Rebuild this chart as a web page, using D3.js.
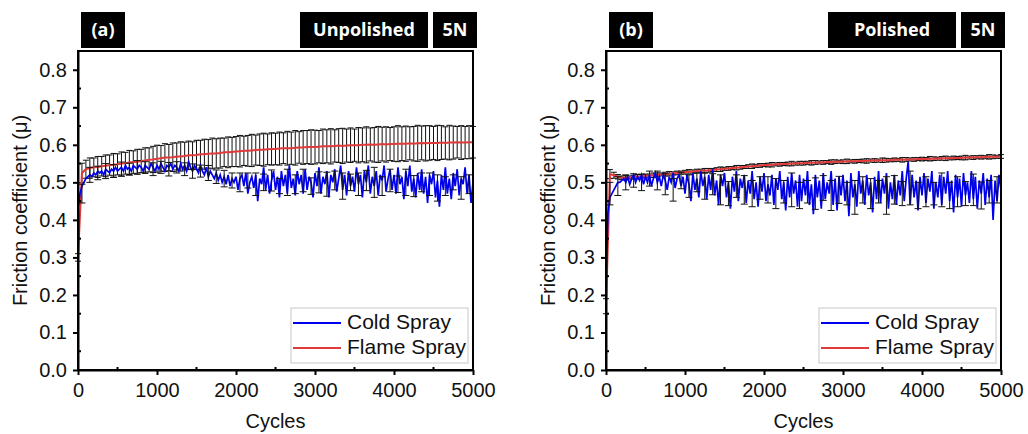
<!DOCTYPE html>
<html>
<head>
<meta charset="utf-8">
<script src="https://cdn.jsdelivr.net/npm/d3@7"></script>
<style>
body { margin: 0; background: #fff; }
svg text { font-family: "Liberation Sans", Arial, sans-serif; fill: #111; }
.tagText { font-family: "Open Sans", sans-serif !important; font-weight: 700; fill: #fff !important; }
</style>
</head>
<body>
<svg id="visframe" width="1028" height="434"></svg>
<script>
// sample grids (cycles)
var coldCycles = d3.range(0, 5001, 25);
var flameCycles = d3.range(0, 5001, 50);
var coldErrCycles = d3.range(50, 5000, 100);

var yTicks = [0, 0.1, 0.2, 0.3, 0.4, 0.5, 0.6, 0.7, 0.8];
var yMinor = [0.05, 0.15, 0.25, 0.35, 0.45, 0.55, 0.65, 0.75];
var xTicks = [0, 1000, 2000, 3000, 4000, 5000];
var xMinor = [500, 1500, 2500, 3500, 4500];

// ---- panel (a) unpolished ----
var coldA = [
  0.43, 0.47, 0.49, 0.50, 0.51, 0.515, 0.52, 0.515, 0.525, 0.52,
  0.53, 0.525, 0.53, 0.52, 0.535, 0.53, 0.525, 0.535, 0.53, 0.54,
  0.53, 0.535, 0.54, 0.53, 0.545, 0.535, 0.54, 0.53, 0.545, 0.54,
  0.535, 0.545, 0.54, 0.53, 0.545, 0.54, 0.535, 0.55, 0.54, 0.53,
  0.545, 0.535, 0.55, 0.54, 0.53, 0.545, 0.54, 0.55, 0.535, 0.545,
  0.54, 0.53, 0.55, 0.535, 0.545, 0.53, 0.555, 0.54, 0.53, 0.545,
  0.535, 0.525, 0.545, 0.53, 0.52, 0.54, 0.515, 0.53, 0.52, 0.51,
  0.525, 0.505, 0.52, 0.50, 0.515, 0.495, 0.52, 0.49, 0.51, 0.50,
  0.515, 0.48, 0.51, 0.52, 0.49, 0.525, 0.47, 0.50, 0.515, 0.485,
  0.52, 0.45, 0.51, 0.495, 0.54, 0.48, 0.52, 0.47, 0.505, 0.53,
  0.48, 0.515, 0.46, 0.53, 0.49, 0.52, 0.47, 0.545, 0.485, 0.51,
  0.465, 0.53, 0.495, 0.52, 0.47, 0.535, 0.48, 0.515, 0.50, 0.46,
  0.525, 0.49, 0.54, 0.47, 0.515, 0.495, 0.53, 0.46, 0.52, 0.50,
  0.535, 0.475, 0.51, 0.545, 0.48, 0.52, 0.465, 0.53, 0.49, 0.515,
  0.475, 0.54, 0.495, 0.52, 0.46, 0.53, 0.50, 0.545, 0.47, 0.515,
  0.49, 0.53, 0.465, 0.52, 0.505, 0.545, 0.475, 0.51, 0.535, 0.48,
  0.52, 0.47, 0.54, 0.495, 0.515, 0.455, 0.53, 0.49, 0.545, 0.475,
  0.51, 0.46, 0.525, 0.48, 0.535, 0.47, 0.515, 0.445, 0.52, 0.495,
  0.53, 0.46, 0.505, 0.435, 0.52, 0.48, 0.54, 0.47, 0.51, 0.455,
  0.525, 0.49, 0.535, 0.465, 0.51, 0.495, 0.54, 0.47, 0.52, 0.445,
  0.50
];
var flameMeanA = [
  0.30,
  0.525, 0.535, 0.538, 0.540, 0.541, 0.543, 0.544, 0.546, 0.547,
  0.548, 0.550, 0.551, 0.553, 0.554, 0.555, 0.557, 0.558, 0.560, 0.561,
  0.563, 0.564, 0.566, 0.566, 0.567, 0.569, 0.569, 0.570, 0.572, 0.572,
  0.573, 0.575, 0.575, 0.576, 0.577, 0.577, 0.578, 0.580, 0.580, 0.581,
  0.582, 0.583, 0.584, 0.584, 0.585, 0.586, 0.587, 0.587, 0.588, 0.589,
  0.589, 0.590, 0.591, 0.591, 0.591, 0.592, 0.593, 0.593, 0.594, 0.594,
  0.594, 0.595, 0.596, 0.596, 0.596, 0.597, 0.598, 0.597, 0.598, 0.599,
  0.599, 0.599, 0.600, 0.600, 0.601, 0.600, 0.601, 0.602, 0.601, 0.602,
  0.602, 0.603, 0.603, 0.603, 0.604, 0.603, 0.604, 0.605, 0.604, 0.605,
  0.605, 0.605, 0.606, 0.605, 0.606, 0.606, 0.607, 0.606, 0.606, 0.607,
  0.607
];
var flameSdA = [
  0.010,
  0.026, 0.024, 0.027, 0.025, 0.028, 0.026, 0.029, 0.027, 0.030,
  0.028, 0.031, 0.029, 0.032, 0.030, 0.033, 0.031, 0.034, 0.032, 0.035,
  0.036, 0.034, 0.037, 0.035, 0.038, 0.036, 0.039, 0.037, 0.038, 0.036,
  0.039, 0.037, 0.040, 0.038, 0.041, 0.039, 0.040, 0.038, 0.041, 0.039,
  0.040, 0.042, 0.039, 0.041, 0.043, 0.040, 0.042, 0.044, 0.041, 0.043,
  0.042, 0.044, 0.041, 0.045, 0.043, 0.046, 0.042, 0.045, 0.044, 0.046,
  0.045, 0.043, 0.046, 0.044, 0.047, 0.043, 0.045, 0.047, 0.044, 0.046,
  0.043, 0.047, 0.045, 0.048, 0.044, 0.046, 0.048, 0.045, 0.047, 0.044,
  0.046, 0.048, 0.045, 0.047, 0.044, 0.046, 0.048, 0.045, 0.047, 0.046,
  0.044, 0.047, 0.045, 0.043, 0.046, 0.044, 0.042, 0.045, 0.043, 0.044,
  0.042
];
var coldErrMeanA = [
  0.47, 0.52, 0.525, 0.53, 0.53, 0.535, 0.535, 0.54, 0.54, 0.535,
  0.54, 0.535, 0.54, 0.535, 0.53, 0.53, 0.525, 0.515, 0.51, 0.505,
  0.50, 0.505, 0.495, 0.50, 0.505, 0.49, 0.50, 0.495, 0.505, 0.49,
  0.50, 0.495, 0.505, 0.49, 0.50, 0.495, 0.505, 0.50, 0.49, 0.505,
  0.495, 0.50, 0.49, 0.50, 0.495, 0.485, 0.49, 0.50, 0.485, 0.495
];
var coldErrSdA = [
  0.025, 0.020, 0.018, 0.020, 0.017, 0.019, 0.016, 0.018, 0.015, 0.017,
  0.016, 0.018, 0.015, 0.017, 0.019, 0.016, 0.020, 0.018, 0.022, 0.020,
  0.025, 0.020, 0.030, 0.022, 0.028, 0.020, 0.035, 0.025, 0.030, 0.022,
  0.028, 0.032, 0.025, 0.035, 0.022, 0.030, 0.027, 0.040, 0.025, 0.030,
  0.022, 0.035, 0.028, 0.025, 0.030, 0.035, 0.025, 0.020, 0.030, 0.025
];

// ---- panel (b) polished ----
var coldB = [
  0.25, 0.42, 0.46, 0.47, 0.48, 0.49, 0.50, 0.50, 0.505, 0.51,
  0.50, 0.515, 0.495, 0.51, 0.52, 0.50, 0.515, 0.505, 0.52, 0.495,
  0.515, 0.50, 0.52, 0.49, 0.51, 0.525, 0.50, 0.515, 0.49, 0.52,
  0.505, 0.48, 0.515, 0.50, 0.525, 0.485, 0.51, 0.52, 0.49, 0.515,
  0.47, 0.52, 0.495, 0.45, 0.525, 0.48, 0.51, 0.46, 0.53, 0.49,
  0.515, 0.455, 0.52, 0.48, 0.535, 0.465, 0.505, 0.44, 0.52, 0.49,
  0.525, 0.46, 0.50, 0.43, 0.515, 0.475, 0.53, 0.45, 0.51, 0.485,
  0.52, 0.445, 0.505, 0.47, 0.53, 0.455, 0.50, 0.435, 0.515, 0.475,
  0.525, 0.45, 0.495, 0.465, 0.52, 0.44, 0.51, 0.48, 0.53, 0.455,
  0.50, 0.425, 0.515, 0.46, 0.525, 0.47, 0.505, 0.435, 0.52, 0.45,
  0.51, 0.465, 0.53, 0.44, 0.495, 0.415, 0.52, 0.46, 0.505, 0.43,
  0.525, 0.455, 0.50, 0.47, 0.53, 0.44, 0.51, 0.425, 0.515, 0.465,
  0.52, 0.45, 0.505, 0.41, 0.525, 0.46, 0.495, 0.435, 0.53, 0.47,
  0.505, 0.44, 0.52, 0.465, 0.50, 0.42, 0.515, 0.455, 0.53, 0.445,
  0.51, 0.47, 0.525, 0.43, 0.50, 0.455, 0.52, 0.44, 0.505, 0.465,
  0.53, 0.45, 0.51, 0.555, 0.44, 0.52, 0.46, 0.505, 0.425, 0.515,
  0.465, 0.525, 0.445, 0.51, 0.475, 0.53, 0.43, 0.50, 0.46, 0.52,
  0.44, 0.515, 0.47, 0.53, 0.45, 0.505, 0.42, 0.52, 0.46, 0.51,
  0.435, 0.525, 0.465, 0.50, 0.445, 0.53, 0.455, 0.515, 0.43, 0.505,
  0.47, 0.525, 0.44, 0.51, 0.46, 0.52, 0.40, 0.505, 0.45, 0.52,
  0.48
];
var flameMeanB = [
  0.17,
  0.522, 0.519, 0.515, 0.512, 0.512, 0.513, 0.514, 0.515, 0.516,
  0.517, 0.518, 0.519, 0.520, 0.521, 0.522, 0.523, 0.524, 0.525, 0.526,
  0.527, 0.528, 0.529, 0.530, 0.531, 0.531, 0.532, 0.533, 0.534, 0.535,
  0.536, 0.537, 0.538, 0.539, 0.540, 0.541, 0.542, 0.543, 0.544, 0.545,
  0.546, 0.546, 0.547, 0.548, 0.548, 0.549, 0.549, 0.550, 0.550, 0.551,
  0.551, 0.552, 0.552, 0.553, 0.553, 0.553, 0.554, 0.554, 0.555, 0.555,
  0.555, 0.556, 0.556, 0.556, 0.557, 0.557, 0.557, 0.558, 0.558, 0.558,
  0.559, 0.559, 0.559, 0.560, 0.560, 0.560, 0.561, 0.561, 0.561, 0.562,
  0.562, 0.562, 0.563, 0.563, 0.563, 0.564, 0.564, 0.564, 0.565, 0.565,
  0.565, 0.566, 0.566, 0.566, 0.567, 0.567, 0.567, 0.568, 0.568, 0.568,
  0.569
];
var flameSdB = [
  0.020,
  0.012, 0.008, 0.006, 0.005, 0.006, 0.004, 0.005, 0.006, 0.004,
  0.005, 0.004, 0.006, 0.005, 0.004, 0.005, 0.006, 0.004, 0.005, 0.004,
  0.005, 0.006, 0.004, 0.005, 0.004, 0.006, 0.005, 0.004, 0.005, 0.006,
  0.004, 0.005, 0.004, 0.006, 0.005, 0.004, 0.005, 0.006, 0.004, 0.005,
  0.004, 0.005, 0.006, 0.004, 0.005, 0.004, 0.005, 0.006, 0.004, 0.005,
  0.005, 0.004, 0.006, 0.005, 0.004, 0.005, 0.004, 0.006, 0.005, 0.004,
  0.005, 0.006, 0.004, 0.005, 0.004, 0.005, 0.006, 0.004, 0.005, 0.004,
  0.006, 0.005, 0.004, 0.005, 0.004, 0.006, 0.005, 0.004, 0.005, 0.004,
  0.005, 0.004, 0.006, 0.005, 0.004, 0.005, 0.006, 0.004, 0.005, 0.004,
  0.005, 0.006, 0.004, 0.005, 0.004, 0.005, 0.004, 0.006, 0.005, 0.004,
  0.005
];
var coldErrMeanB = [
  0.47, 0.49, 0.50, 0.505, 0.50, 0.51, 0.505, 0.495, 0.48, 0.505,
  0.49, 0.50, 0.49, 0.495, 0.48, 0.47, 0.49, 0.48, 0.47, 0.485,
  0.48, 0.47, 0.475, 0.48, 0.465, 0.475, 0.47, 0.485, 0.465, 0.48,
  0.47, 0.46, 0.48, 0.47, 0.475, 0.465, 0.48, 0.47, 0.485, 0.465,
  0.475, 0.47, 0.48, 0.465, 0.475, 0.47, 0.48, 0.465, 0.475, 0.48
];
var coldErrSdB = [
  0.030, 0.025, 0.020, 0.018, 0.022, 0.020, 0.025, 0.028, 0.030, 0.022,
  0.030, 0.025, 0.035, 0.028, 0.040, 0.032, 0.030, 0.038, 0.035, 0.030,
  0.035, 0.040, 0.030, 0.045, 0.035, 0.030, 0.042, 0.033, 0.040, 0.036,
  0.030, 0.045, 0.035, 0.040, 0.030, 0.050, 0.038, 0.032, 0.045, 0.035,
  0.040, 0.030, 0.045, 0.035, 0.040, 0.032, 0.042, 0.036, 0.030, 0.035
];

var seriesNames = ["Cold Spray", "Flame Spray"];
var coldColor = "#0000f0";
var flameColor = "#e03a3a";

var plotTop = 51, plotBottom = 370;

var panels = [
  { left: 78, right: 473, tag: "(a)", cond: "Unpolished", load: "5N",
    cold: coldA, flame: flameMeanA, flameSd: flameSdA, cMean: coldErrMeanA, cSd: coldErrSdA },
  { left: 606, right: 1001, tag: "(b)", cond: "Polished", load: "5N",
    cold: coldB, flame: flameMeanB, flameSd: flameSdB, cMean: coldErrMeanB, cSd: coldErrSdB }
];

panels.forEach(drawPanel);

function errorBars(g, xs, means, sds, x, y, cap){
  var bars = g.append("g").attr("stroke", "#111").attr("stroke-width", 1).attr("fill", "none");
  xs.forEach(function(c, i){
    var px = x(c), lo = y(means[i] - sds[i]), hi = y(means[i] + sds[i]);
    bars.append("line").attr("x1", px).attr("x2", px).attr("y1", lo).attr("y2", hi);
    bars.append("line").attr("x1", px - cap).attr("x2", px + cap).attr("y1", lo).attr("y2", lo);
    bars.append("line").attr("x1", px - cap).attr("x2", px + cap).attr("y1", hi).attr("y2", hi);
  });
}

function drawPanel(p){
  var svg = d3.select("#visframe");
  var x = d3.scaleLinear().domain([0, 5000]).range([p.left, p.right]);
  var y = d3.scaleLinear().domain([0, 0.85]).range([plotBottom, plotTop]);
  var g = svg.append("g");

  // flame spray: error bars then mean line
  errorBars(g, flameCycles, p.flame, p.flameSd, x, y, 3);
  g.append("path")
    .datum(p.flame)
    .attr("fill", "none")
    .attr("stroke", flameColor)
    .attr("stroke-width", 2)
    .attr("d", d3.line().x(function(d, i){ return x(flameCycles[i]); }).y(function(d){ return y(d); }));

  // cold spray line + its error bars
  g.append("path")
    .datum(p.cold)
    .attr("fill", "none")
    .attr("stroke", coldColor)
    .attr("stroke-width", 1.7)
    .attr("d", d3.line().x(function(d, i){ return x(coldCycles[i]); }).y(function(d){ return y(d); }));
  errorBars(g, coldErrCycles, p.cMean, p.cSd, x, y, 3.5);

  // frame
  g.append("rect")
    .attr("x", p.left).attr("y", plotTop)
    .attr("width", p.right - p.left).attr("height", plotBottom - plotTop)
    .attr("fill", "none").attr("stroke", "#000").attr("stroke-width", 2);

  // axes
  var yAxis = g.append("g")
    .attr("transform", "translate(" + p.left + ",0)")
    .call(d3.axisLeft(y).tickValues(yTicks).tickSize(5).tickSizeOuter(0).tickPadding(6).tickFormat(d3.format(".1f")));
  var xAxis = g.append("g")
    .attr("transform", "translate(0," + plotBottom + ")")
    .call(d3.axisBottom(x).tickValues(xTicks).tickSize(5).tickSizeOuter(0).tickPadding(8).tickFormat(d3.format("d")));
  [yAxis, xAxis].forEach(function(a){
    a.select(".domain").attr("stroke-width", 2);
    a.selectAll(".tick line").attr("stroke-width", 2);
    a.selectAll("text").attr("font-size", 20).attr("font-family", "Liberation Sans, Arial, sans-serif").attr("fill", "#111");
  });

  // minor ticks (inside)
  g.selectAll(".yminor").data(yMinor).enter().append("line")
    .attr("x1", p.left).attr("x2", p.left + 3)
    .attr("y1", function(d){ return y(d); }).attr("y2", function(d){ return y(d); })
    .attr("stroke", "#000").attr("stroke-width", 2);
  g.selectAll(".xminor").data(xMinor).enter().append("line")
    .attr("x1", function(d){ return x(d); }).attr("x2", function(d){ return x(d); })
    .attr("y1", plotBottom).attr("y2", plotBottom - 3)
    .attr("stroke", "#000").attr("stroke-width", 2);

  // axis titles
  g.append("text")
    .attr("transform", "translate(" + (p.left - 58) + "," + ((plotTop + plotBottom) / 2) + ") rotate(-90)")
    .attr("text-anchor", "middle").attr("dy", "0.35em")
    .attr("font-size", 20)
    .text("Friction coefficient (\u03bc)");
  g.append("text")
    .attr("x", (p.left + p.right) / 2).attr("y", plotBottom + 58)
    .attr("text-anchor", "middle").attr("font-size", 20)
    .text("Cycles");

  // black label boxes above the frame
  var boxes = [
    { x0: p.left + 3, w: 44, label: p.tag },
    { x0: p.right - 173, w: 128, label: p.cond },
    { x0: p.right - 40, w: 44, label: p.load }
  ];
  boxes.forEach(function(b){
    g.append("rect").attr("x", b.x0).attr("y", 12).attr("width", b.w).attr("height", 36).attr("fill", "#000");
    g.append("text").attr("class", "tagText")
      .attr("x", b.x0 + b.w / 2).attr("y", 36)
      .attr("text-anchor", "middle").attr("font-size", 18)
      .text(b.label);
  });

  // legend
  var leg = g.append("g").attr("transform", "translate(" + (p.right - 182) + "," + (plotBottom - 62) + ")");
  leg.append("rect").attr("width", 177).attr("height", 55)
    .attr("fill", "#fff").attr("stroke", "#c8c8c8").attr("stroke-width", 1);
  [coldColor, flameColor].forEach(function(col, i){
    leg.append("line").attr("x1", 2).attr("x2", 50)
      .attr("y1", 15 + i * 25).attr("y2", 15 + i * 25)
      .attr("stroke", col).attr("stroke-width", 2);
    leg.append("text").attr("x", 56).attr("y", 21 + i * 25)
      .attr("font-size", 21)
      .text(seriesNames[i]);
  });
}
</script>
</body>
</html>
